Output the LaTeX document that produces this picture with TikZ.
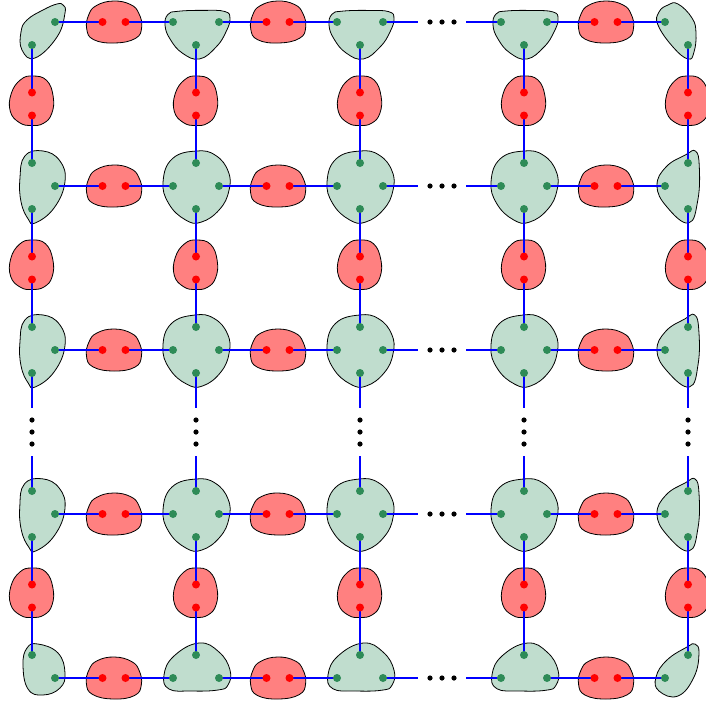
\documentclass[tikz,border=0pt]{standalone}
\definecolor{gfill}{RGB}{192,221,206}
\definecolor{rfill}{RGB}{255,128,128}
\definecolor{gdotc}{RGB}{46,139,87}
\definecolor{rdotc}{RGB}{255,0,0}
\definecolor{wirec}{RGB}{0,0,255}
\tikzset{
  blobg/.style={draw=black, line width=0.8pt, fill=gfill},
  blobr/.style={draw=black, line width=0.8pt, fill=rfill},
  wire/.style={draw=wirec, line width=1.3pt},
  gdot/.style={fill=gdotc},
  rdot/.style={fill=rdotc},
  elldot/.style={fill=black},
  bl/.style={smooth cycle, tension=0.75}
}
% blob shapes, relative to the vertex/edge centre (y grows downwards)
\newcommand\blobGI[2]{\draw[blobg,shift={(#1,#2)},rotate={2*rand}] plot[bl] coordinates {(0,-35) (19,-31) (32,-15) (33,4) (24,23) (6,36) (-10,34) (-27,18) (-33,-4) (-24,-27)};}
\newcommand\blobGT[2]{\draw[blobg,shift={(#1,#2)},rotate={1.5*rand}] plot[bl] coordinates {(-31,3) (-28,-8) (-18,-11) (8,-11.5) (29,-10) (34,-3) (30,10) (20,25) (3,37) (-14,31) (-26,17)};}
\newcommand\blobGB[2]{\draw[blobg,shift={(#1,#2)},rotate={1.5*rand}] plot[bl] coordinates {(3,-35) (23,-26) (34,-8) (32,7) (22,12) (-5,13) (-27,11) (-32,-3) (-22,-22)};}
\newcommand\blobGL[2]{\draw[blobg,shift={(#1,#2)},rotate={1.5*rand}] plot[bl] coordinates {(11,-35) (-7,-30) (-12,-8) (-11,16) (-4,33) (3,37) (22,22) (33,-4) (28,-25)};}
\newcommand\blobGR[2]{\draw[blobg,shift={(#1,#2)},rotate={1.5*rand}] plot[bl] coordinates {(7,-35) (11,-20) (10,14) (1,37) (-21,21) (-31,0) (-22,-19) (-3,-31)};}
\newcommand\blobTL[2]{\draw[blobg,shift={(#1,#2)}] plot[bl] coordinates {(31,-17) (33,-9) (25,15) (3,36) (-10,28) (-11,10) (-5,-2) (11,-12) (25,-18)};}
\newcommand\blobTR[2]{\draw[blobg,shift={(#1,#2)}] plot[bl] coordinates {(-29,-10) (-20,-17) (-10,-18) (4,-4) (8,11) (6,30) (0,37) (-15,25) (-30,3)};}
\newcommand\blobBL[2]{\draw[blobg,shift={(#1,#2)}] plot[bl] coordinates {(6,-34) (26,-25) (33,-5) (28,10) (11,17) (-4,11) (-9,-13) (-5,-30)};}
\newcommand\blobBR[2]{\draw[blobg,shift={(#1,#2)}] plot[bl] coordinates {(7,-34) (11,-25) (6,-1) (-10,18) (-29,13) (-32,-1) (-21,-18) (-1,-31)};}
\newcommand\blobRH[2]{\draw[blobr,shift={(#1,#2)},rotate={2*rand}] plot[bl] coordinates {(0,-21) (17,-17) (25,-8) (27.5,6) (21,17) (0,21) (-21,17) (-27.5,6) (-25,-8) (-17,-17)};}
\newcommand\blobRV[2]{\draw[blobr,shift={(#1,#2)},rotate={2*rand}] plot[bl] coordinates {(0,-28) (14,-24) (21,-8) (20,9) (12,19) (0,21.5) (-12,19) (-21.5,8) (-21,-10) (-12,-24)};}
\begin{document}
\begin{tikzpicture}[x=1pt,y=-1pt]
\pgfmathsetseed{11}
\useasboundingbox (0,0) rectangle (706,704);
\clip (0,0) rectangle (706,704);
% ---------- green blobs (vertices) ----------
\blobTL{32}{22} \blobTR{688}{22} \blobBL{32}{678} \blobBR{688}{678}
\foreach \c in {1,2,3}{
  \pgfmathsetmacro\X{32+164*\c}
  \blobGT{\X}{22}
  \blobGB{\X}{678}
}
\foreach \r in {1,2,3}{
  \pgfmathsetmacro\Y{22+164*\r}
  \blobGL{32}{\Y}
  \blobGR{688}{\Y}
  \foreach \c in {1,2,3}{
    \pgfmathsetmacro\X{32+164*\c}
    \blobGI{\X}{\Y}
  }
}
% ---------- red blobs (edges) ----------
\foreach \c in {0,1,3}{
  \foreach \r in {0,...,4}{
    \pgfmathsetmacro\X{32+164*\c+82}
    \pgfmathsetmacro\Y{22+164*\r}
    \blobRH{\X}{\Y}
  }
}
\foreach \c in {0,...,4}{
  \foreach \r in {0,1,3}{
    \pgfmathsetmacro\X{32+164*\c}
    \pgfmathsetmacro\Y{22+164*\r+82}
    \blobRV{\X}{\Y}
  }
}
% ---------- named points ----------
\foreach \c in {0,...,4}{
  \foreach \r in {0,...,4}{
    \pgfmathsetmacro\X{32+164*\c}
    \pgfmathsetmacro\Y{22+164*\r}
    \coordinate (v-\c-\r-l) at (\X-23,\Y);
    \coordinate (v-\c-\r-r) at (\X+23,\Y);
    \coordinate (v-\c-\r-t) at (\X,\Y-23);
    \coordinate (v-\c-\r-b) at (\X,\Y+23);
  }
}
\foreach \c in {0,1,3}{
  \foreach \r in {0,...,4}{
    \pgfmathsetmacro\X{32+164*\c+82}
    \pgfmathsetmacro\Y{22+164*\r}
    \coordinate (h-\c-\r-a) at (\X-11.5,\Y);
    \coordinate (h-\c-\r-b) at (\X+11.5,\Y);
  }
}
\foreach \c in {0,...,4}{
  \foreach \r in {0,1,3}{
    \pgfmathsetmacro\X{32+164*\c}
    \pgfmathsetmacro\Y{22+164*\r+82}
    \coordinate (e-\c-\r-a) at (\X,\Y-11.5);
    \coordinate (e-\c-\r-b) at (\X,\Y+11.5);
  }
}
\foreach \r in {0,...,4}{
  \pgfmathsetmacro\Y{22+164*\r}
  \coordinate (gh-\r-s) at (418,\Y);
  \coordinate (gh-\r-e) at (466,\Y);
  \coordinate (gh-\r-1) at (430,\Y);
  \coordinate (gh-\r-2) at (442,\Y);
  \coordinate (gh-\r-3) at (454,\Y);
}
\foreach \c in {0,...,4}{
  \pgfmathsetmacro\X{32+164*\c}
  \coordinate (gv-\c-s) at (\X,408);
  \coordinate (gv-\c-e) at (\X,456);
  \coordinate (gv-\c-1) at (\X,420);
  \coordinate (gv-\c-2) at (\X,432);
  \coordinate (gv-\c-3) at (\X,444);
}
% ---------- wires ----------
\foreach \c in {0,1,3}{
  \pgfmathtruncatemacro\n{\c+1}
  \foreach \r in {0,...,4}{
    \draw[wire] (v-\c-\r-r) -- (h-\c-\r-a);
    \draw[wire] (h-\c-\r-b) -- (v-\n-\r-l);
  }
}
\foreach \c in {0,...,4}{
  \foreach \r in {0,1,3}{
    \pgfmathtruncatemacro\n{\r+1}
    \draw[wire] (v-\c-\r-b) -- (e-\c-\r-a);
    \draw[wire] (e-\c-\r-b) -- (v-\c-\n-t);
  }
}
\foreach \r in {0,...,4}{
  \draw[wire] (v-2-\r-r) -- (gh-\r-s);
  \draw[wire] (gh-\r-e) -- (v-3-\r-l);
  \foreach \k in {1,2,3}{\fill[elldot] (gh-\r-\k) circle (2.6);}
}
\foreach \c in {0,...,4}{
  \draw[wire] (v-\c-2-b) -- (gv-\c-s);
  \draw[wire] (gv-\c-e) -- (v-\c-3-t);
  \foreach \k in {1,2,3}{\fill[elldot] (gv-\c-\k) circle (2.6);}
}
% ---------- dots ----------
\foreach \c in {0,...,4}{
  \foreach \r in {0,...,4}{
    \ifnum\c>0 \fill[gdot] (v-\c-\r-l) circle (4);\fi
    \ifnum\c<4 \fill[gdot] (v-\c-\r-r) circle (4);\fi
    \ifnum\r>0 \fill[gdot] (v-\c-\r-t) circle (4);\fi
    \ifnum\r<4 \fill[gdot] (v-\c-\r-b) circle (4);\fi
  }
}
\foreach \c in {0,1,3}{
  \foreach \r in {0,...,4}{
    \fill[rdot] (h-\c-\r-a) circle (4);
    \fill[rdot] (h-\c-\r-b) circle (4);
  }
}
\foreach \c in {0,...,4}{
  \foreach \r in {0,1,3}{
    \fill[rdot] (e-\c-\r-a) circle (4);
    \fill[rdot] (e-\c-\r-b) circle (4);
  }
}
\end{tikzpicture}
\end{document}
